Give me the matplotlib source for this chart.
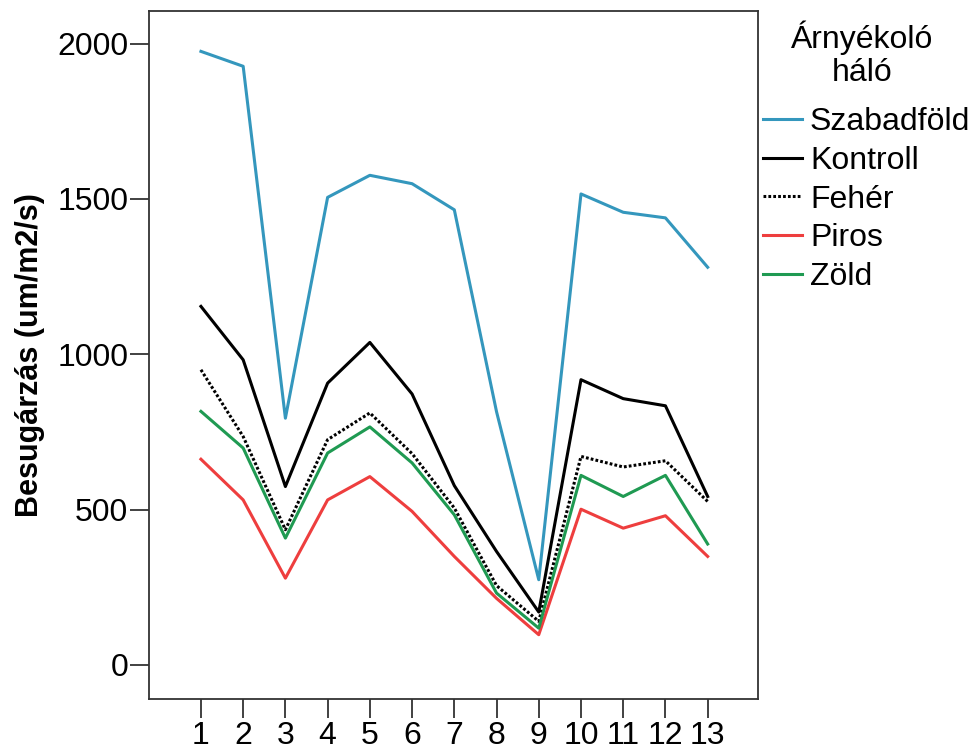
import matplotlib.pyplot as plt
import numpy as np

plt.rcParams['font.family'] = ['Liberation Sans', 'DejaVu Sans']

napok = list(range(1, 14))
szabadfold = [1975, 1927, 794, 1505, 1576, 1549, 1465, 815, 274, 1516, 1457, 1439, 1280]
kontroll = [1154, 982, 574, 907, 1038, 872, 577, 365, 170, 918, 857, 834, 542]
feher = [950, 735, 435, 725, 811, 680, 505, 255, 140, 671, 637, 657, 526]
piros = [662, 531, 279, 531, 606, 494, 349, 214, 97, 501, 440, 480, 349]
zold = [816, 698, 408, 682, 766, 650, 483, 231, 118, 610, 542, 610, 389]

W, H = 972, 755
fig = plt.figure(figsize=(9.72, 7.55), dpi=100)
ax = fig.add_axes([149 / W, 1 - 699 / H, (757.5 - 149) / W, (699 - 11) / H])

lw = 2.2
ax.plot(napok, szabadfold, color='#3497bd', lw=lw, label='Szabadföld')
ax.plot(napok, kontroll, color='black', lw=lw, label='Kontroll')
ax.plot(napok, feher, color='black', lw=lw, linestyle=(0, (0.9, 0.7)), label='Fehér')
ax.plot(napok, piros, color='#ee3e3e', lw=lw, label='Piros')
ax.plot(napok, zold, color='#1f9a52', lw=lw, label='Zöld')

ax.set_xlim(-0.23, 14.18)
ax.set_ylim(-110, 2105)
ax.set_xticks(napok)
ax.set_yticks([0, 500, 1000, 1500, 2000])
ax.tick_params(length=14, width=1.3, labelsize=23, color='#333333')
ax.tick_params(axis='x', pad=2)
ax.tick_params(axis='y', pad=1)
for s in ax.spines.values():
    s.set_linewidth(1.3)
    s.set_color('#333333')

ax.set_ylabel('Besugárzás (um/m2/s)', fontsize=22, fontweight='bold')
ax.yaxis.set_label_coords(-0.171, 0.5)

# legend title as two centred lines
fig.text(862.5 / W, 1 - 48 / H, 'Árnyékoló', fontsize=23, ha='center', va='baseline')
fig.text(862.5 / W, 1 - 81 / H, 'háló', fontsize=23, ha='center', va='baseline')

leg = ax.legend(loc='upper left', bbox_to_anchor=(763 / W, 1 - 107 / H),
                bbox_transform=fig.transFigure, frameon=False, fontsize=23,
                handlelength=1.22, handletextpad=0.25, labelspacing=0.275,
                borderaxespad=0, borderpad=0)

plt.savefig('out.png', dpi=100)
